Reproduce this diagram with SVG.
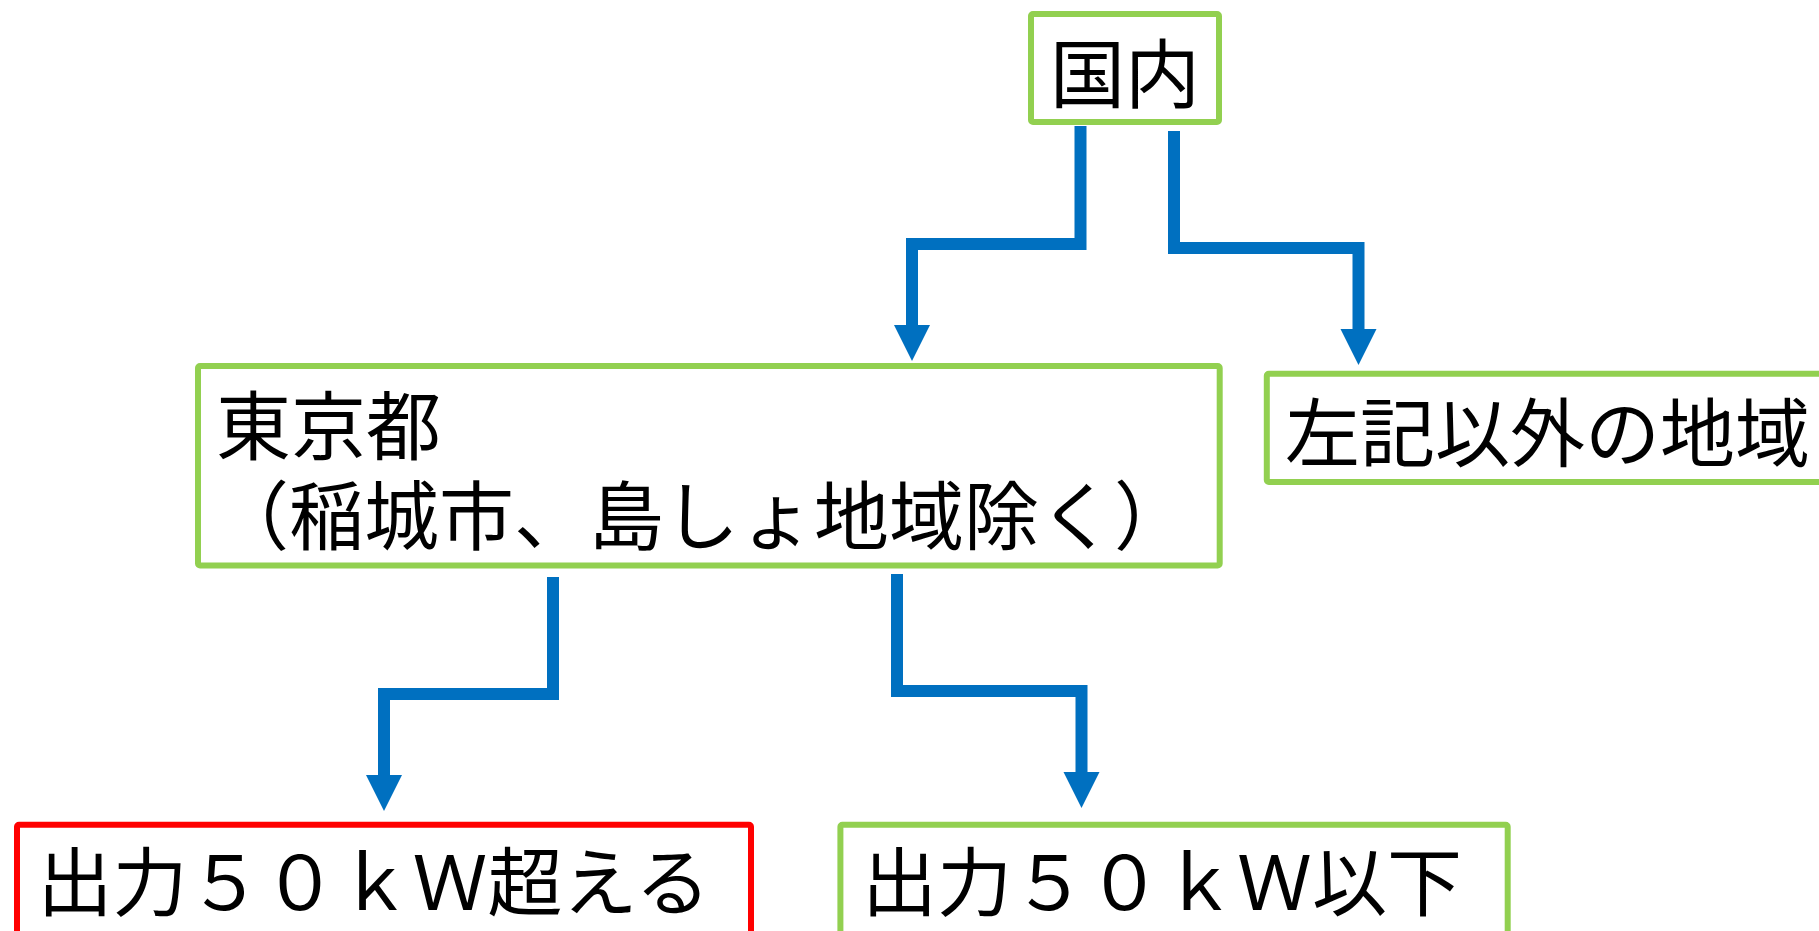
<svg xmlns="http://www.w3.org/2000/svg" width="1819" height="931" viewBox="0 0 1819 931">
  <style>
    .box { fill: #FFFFFF; stroke: #92D050; stroke-width: 6; }
    .red { stroke: #FF0000; }
    .lbl { font-family: "Noto Sans CJK JP", "Noto Sans CJK SC", sans-serif; font-size: 75px; fill: #000000; }
    .conn { fill: none; stroke: #0070C0; stroke-width: 12; stroke-linejoin: miter; stroke-linecap: butt; }
    .head { fill: #0070C0; }
  </style>
  <rect width="1819" height="931" fill="#FFFFFF"/>
  <g id="connectors">
    <polyline class="conn" points="1080.5,126 1080.5,244 912,244 912,326"/>
    <polygon class="head" points="894,325 930,325 912,361"/>
    <polyline class="conn" points="1174,131 1174,248 1358.5,248 1358.5,330"/>
    <polygon class="head" points="1340.5,329 1376.5,329 1358.5,365"/>
    <polyline class="conn" points="553,577 553,694 384,694 384,776"/>
    <polygon class="head" points="366,775 402,775 384,811"/>
    <polyline class="conn" points="897,574 897,691 1081.5,691 1081.5,773"/>
    <polygon class="head" points="1063.5,772 1099.5,772 1081.5,808"/>
  </g>
  <g id="node-kokunai">
    <rect class="box" x="1031" y="14" width="188" height="108" rx="2"/>
    <text class="lbl" x="1125" y="102" font-size="73" text-anchor="middle">国内</text>
  </g>
  <g id="node-tokyo">
    <rect class="box" x="198" y="366" width="1021.7" height="199.5" rx="2"/>
    <text class="lbl" x="216" y="454"><tspan x="216" y="454">東京都</tspan><tspan x="214" y="544">（稲城市、島しょ地域除く）</tspan></text>
  </g>
  <g id="node-other">
    <rect class="box" x="1266.8" y="373.7" width="600" height="108.3" rx="2"/>
    <text class="lbl" x="1285" y="461">左記以外の地域</text>
  </g>
  <g id="node-over50">
    <rect class="box red" x="17" y="824.7" width="734" height="200" rx="2"/>
    <text class="lbl" x="37.5" y="910" font-size="74">出力５０ｋＷ超える</text>
  </g>
  <g id="node-under50">
    <rect class="box" x="840.4" y="824.7" width="667.3" height="200" rx="2"/>
    <text class="lbl" x="862" y="910" font-size="74">出力５０ｋＷ以下</text>
  </g>
</svg>
